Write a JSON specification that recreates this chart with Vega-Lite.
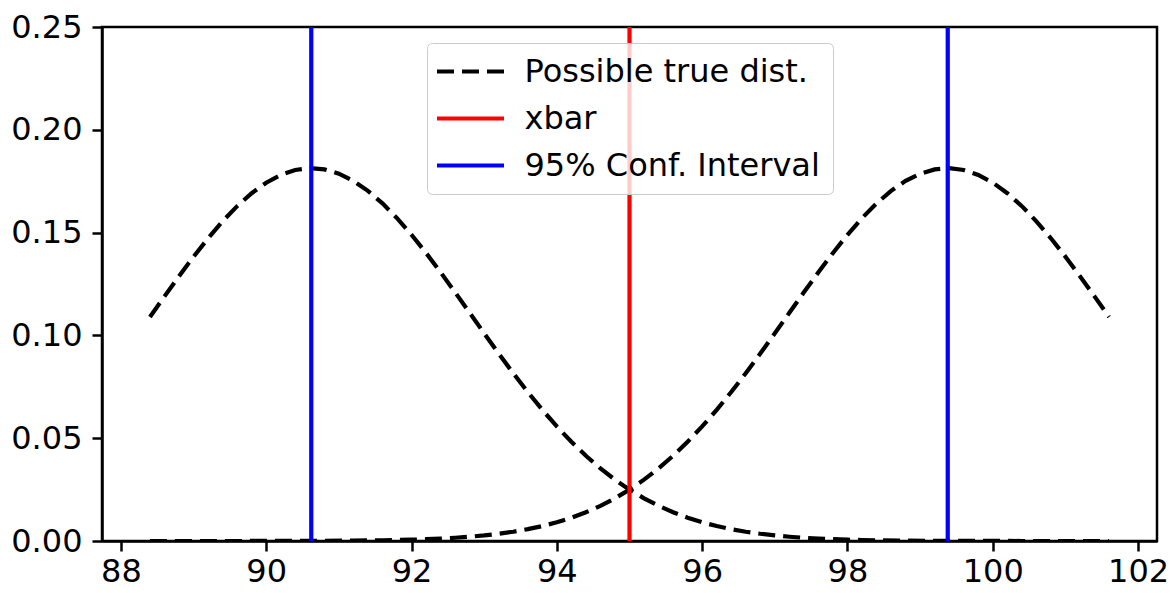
{
  "$schema": "https://vega.github.io/schema/vega-lite/v6.json",
  "autosize": "none",
  "width": 1055,
  "height": 514,
  "padding": {"left": 102, "top": 27, "right": 14, "bottom": 52},
  "background": "white",
  "config": {
    "font": "DejaVu Sans",
    "view": {"stroke": "black", "strokeWidth": 2.5},
    "axis": {
      "grid": false,
      "domainColor": "black",
      "domainWidth": 2.5,
      "tickColor": "black",
      "tickWidth": 2.5,
      "tickSize": 10,
      "labelFont": "DejaVu Sans",
      "labelFontSize": 32,
      "labelColor": "black",
      "title": null
    }
  },
  "layer": [
    {
      "data": {
        "values": [
          {"x": 88.4, "y": 0.10899, "c": "L", "s": "Possible true dist."},
          {"x": 88.6, "y": 0.11897, "c": "L", "s": "Possible true dist."},
          {"x": 88.8, "y": 0.12879, "c": "L", "s": "Possible true dist."},
          {"x": 89.0, "y": 0.13827, "c": "L", "s": "Possible true dist."},
          {"x": 89.2, "y": 0.14724, "c": "L", "s": "Possible true dist."},
          {"x": 89.4, "y": 0.15549, "c": "L", "s": "Possible true dist."},
          {"x": 89.6, "y": 0.16286, "c": "L", "s": "Possible true dist."},
          {"x": 89.8, "y": 0.16917, "c": "L", "s": "Possible true dist."},
          {"x": 90.0, "y": 0.17428, "c": "L", "s": "Possible true dist."},
          {"x": 90.2, "y": 0.17806, "c": "L", "s": "Possible true dist."},
          {"x": 90.4, "y": 0.18043, "c": "L", "s": "Possible true dist."},
          {"x": 90.6, "y": 0.18133, "c": "L", "s": "Possible true dist."},
          {"x": 90.8, "y": 0.18073, "c": "L", "s": "Possible true dist."},
          {"x": 91.0, "y": 0.17865, "c": "L", "s": "Possible true dist."},
          {"x": 91.2, "y": 0.17515, "c": "L", "s": "Possible true dist."},
          {"x": 91.4, "y": 0.17029, "c": "L", "s": "Possible true dist."},
          {"x": 91.6, "y": 0.16421, "c": "L", "s": "Possible true dist."},
          {"x": 91.8, "y": 0.15704, "c": "L", "s": "Possible true dist."},
          {"x": 92.0, "y": 0.14895, "c": "L", "s": "Possible true dist."},
          {"x": 92.2, "y": 0.14012, "c": "L", "s": "Possible true dist."},
          {"x": 92.4, "y": 0.13072, "c": "L", "s": "Possible true dist."},
          {"x": 92.6, "y": 0.12095, "c": "L", "s": "Possible true dist."},
          {"x": 92.8, "y": 0.11099, "c": "L", "s": "Possible true dist."},
          {"x": 93.0, "y": 0.10101, "c": "L", "s": "Possible true dist."},
          {"x": 93.2, "y": 0.09117, "c": "L", "s": "Possible true dist."},
          {"x": 93.4, "y": 0.08161, "c": "L", "s": "Possible true dist."},
          {"x": 93.6, "y": 0.07245, "c": "L", "s": "Possible true dist."},
          {"x": 93.8, "y": 0.06380, "c": "L", "s": "Possible true dist."},
          {"x": 94.0, "y": 0.05571, "c": "L", "s": "Possible true dist."},
          {"x": 94.2, "y": 0.04825, "c": "L", "s": "Possible true dist."},
          {"x": 94.4, "y": 0.04144, "c": "L", "s": "Possible true dist."},
          {"x": 94.6, "y": 0.03530, "c": "L", "s": "Possible true dist."},
          {"x": 94.8, "y": 0.02983, "c": "L", "s": "Possible true dist."},
          {"x": 95.0, "y": 0.02499, "c": "L", "s": "Possible true dist."},
          {"x": 95.2, "y": 0.02077, "c": "L", "s": "Possible true dist."},
          {"x": 95.4, "y": 0.01712, "c": "L", "s": "Possible true dist."},
          {"x": 95.6, "y": 0.01399, "c": "L", "s": "Possible true dist."},
          {"x": 95.8, "y": 0.01134, "c": "L", "s": "Possible true dist."},
          {"x": 96.0, "y": 0.00912, "c": "L", "s": "Possible true dist."},
          {"x": 96.2, "y": 0.00727, "c": "L", "s": "Possible true dist."},
          {"x": 96.4, "y": 0.00575, "c": "L", "s": "Possible true dist."},
          {"x": 96.6, "y": 0.00451, "c": "L", "s": "Possible true dist."},
          {"x": 96.8, "y": 0.00351, "c": "L", "s": "Possible true dist."},
          {"x": 97.0, "y": 0.00271, "c": "L", "s": "Possible true dist."},
          {"x": 97.2, "y": 0.00207, "c": "L", "s": "Possible true dist."},
          {"x": 97.4, "y": 0.00157, "c": "L", "s": "Possible true dist."},
          {"x": 97.6, "y": 0.00118, "c": "L", "s": "Possible true dist."},
          {"x": 97.8, "y": 0.00088, "c": "L", "s": "Possible true dist."},
          {"x": 98.0, "y": 0.00065, "c": "L", "s": "Possible true dist."},
          {"x": 98.2, "y": 0.00048, "c": "L", "s": "Possible true dist."},
          {"x": 98.4, "y": 0.00035, "c": "L", "s": "Possible true dist."},
          {"x": 98.8, "y": 0.00018, "c": "L", "s": "Possible true dist."},
          {"x": 99.2, "y": 0.00009, "c": "L", "s": "Possible true dist."},
          {"x": 99.6, "y": 0.00004, "c": "L", "s": "Possible true dist."},
          {"x": 100.0, "y": 0.00002, "c": "L", "s": "Possible true dist."},
          {"x": 100.4, "y": 0.00001, "c": "L", "s": "Possible true dist."},
          {"x": 100.8, "y": 0, "c": "L", "s": "Possible true dist."},
          {"x": 101.2, "y": 0, "c": "L", "s": "Possible true dist."},
          {"x": 101.6, "y": 0, "c": "L", "s": "Possible true dist."},
          {"x": 101.6, "y": 0.10899, "c": "R", "s": "Possible true dist."},
          {"x": 101.4, "y": 0.11897, "c": "R", "s": "Possible true dist."},
          {"x": 101.2, "y": 0.12879, "c": "R", "s": "Possible true dist."},
          {"x": 101.0, "y": 0.13827, "c": "R", "s": "Possible true dist."},
          {"x": 100.8, "y": 0.14724, "c": "R", "s": "Possible true dist."},
          {"x": 100.6, "y": 0.15549, "c": "R", "s": "Possible true dist."},
          {"x": 100.4, "y": 0.16286, "c": "R", "s": "Possible true dist."},
          {"x": 100.2, "y": 0.16917, "c": "R", "s": "Possible true dist."},
          {"x": 100.0, "y": 0.17428, "c": "R", "s": "Possible true dist."},
          {"x": 99.8, "y": 0.17806, "c": "R", "s": "Possible true dist."},
          {"x": 99.6, "y": 0.18043, "c": "R", "s": "Possible true dist."},
          {"x": 99.4, "y": 0.18133, "c": "R", "s": "Possible true dist."},
          {"x": 99.2, "y": 0.18073, "c": "R", "s": "Possible true dist."},
          {"x": 99.0, "y": 0.17865, "c": "R", "s": "Possible true dist."},
          {"x": 98.8, "y": 0.17515, "c": "R", "s": "Possible true dist."},
          {"x": 98.6, "y": 0.17029, "c": "R", "s": "Possible true dist."},
          {"x": 98.4, "y": 0.16421, "c": "R", "s": "Possible true dist."},
          {"x": 98.2, "y": 0.15704, "c": "R", "s": "Possible true dist."},
          {"x": 98.0, "y": 0.14895, "c": "R", "s": "Possible true dist."},
          {"x": 97.8, "y": 0.14012, "c": "R", "s": "Possible true dist."},
          {"x": 97.6, "y": 0.13072, "c": "R", "s": "Possible true dist."},
          {"x": 97.4, "y": 0.12095, "c": "R", "s": "Possible true dist."},
          {"x": 97.2, "y": 0.11099, "c": "R", "s": "Possible true dist."},
          {"x": 97.0, "y": 0.10101, "c": "R", "s": "Possible true dist."},
          {"x": 96.8, "y": 0.09117, "c": "R", "s": "Possible true dist."},
          {"x": 96.6, "y": 0.08161, "c": "R", "s": "Possible true dist."},
          {"x": 96.4, "y": 0.07245, "c": "R", "s": "Possible true dist."},
          {"x": 96.2, "y": 0.06380, "c": "R", "s": "Possible true dist."},
          {"x": 96.0, "y": 0.05571, "c": "R", "s": "Possible true dist."},
          {"x": 95.8, "y": 0.04825, "c": "R", "s": "Possible true dist."},
          {"x": 95.6, "y": 0.04144, "c": "R", "s": "Possible true dist."},
          {"x": 95.4, "y": 0.03530, "c": "R", "s": "Possible true dist."},
          {"x": 95.2, "y": 0.02983, "c": "R", "s": "Possible true dist."},
          {"x": 95.0, "y": 0.02499, "c": "R", "s": "Possible true dist."},
          {"x": 94.8, "y": 0.02077, "c": "R", "s": "Possible true dist."},
          {"x": 94.6, "y": 0.01712, "c": "R", "s": "Possible true dist."},
          {"x": 94.4, "y": 0.01399, "c": "R", "s": "Possible true dist."},
          {"x": 94.2, "y": 0.01134, "c": "R", "s": "Possible true dist."},
          {"x": 94.0, "y": 0.00912, "c": "R", "s": "Possible true dist."},
          {"x": 93.8, "y": 0.00727, "c": "R", "s": "Possible true dist."},
          {"x": 93.6, "y": 0.00575, "c": "R", "s": "Possible true dist."},
          {"x": 93.4, "y": 0.00451, "c": "R", "s": "Possible true dist."},
          {"x": 93.2, "y": 0.00351, "c": "R", "s": "Possible true dist."},
          {"x": 93.0, "y": 0.00271, "c": "R", "s": "Possible true dist."},
          {"x": 92.8, "y": 0.00207, "c": "R", "s": "Possible true dist."},
          {"x": 92.6, "y": 0.00157, "c": "R", "s": "Possible true dist."},
          {"x": 92.4, "y": 0.00118, "c": "R", "s": "Possible true dist."},
          {"x": 92.2, "y": 0.00088, "c": "R", "s": "Possible true dist."},
          {"x": 92.0, "y": 0.00065, "c": "R", "s": "Possible true dist."},
          {"x": 91.8, "y": 0.00048, "c": "R", "s": "Possible true dist."},
          {"x": 91.6, "y": 0.00035, "c": "R", "s": "Possible true dist."},
          {"x": 91.2, "y": 0.00018, "c": "R", "s": "Possible true dist."},
          {"x": 90.8, "y": 0.00009, "c": "R", "s": "Possible true dist."},
          {"x": 90.4, "y": 0.00004, "c": "R", "s": "Possible true dist."},
          {"x": 90.0, "y": 0.00002, "c": "R", "s": "Possible true dist."},
          {"x": 89.6, "y": 0.00001, "c": "R", "s": "Possible true dist."},
          {"x": 89.2, "y": 0, "c": "R", "s": "Possible true dist."},
          {"x": 88.8, "y": 0, "c": "R", "s": "Possible true dist."},
          {"x": 88.4, "y": 0, "c": "R", "s": "Possible true dist."}
        ]
      },
      "mark": {"type": "line", "strokeWidth": 4.2, "strokeCap": "butt", "clip": true},
      "encoding": {
        "x": {
          "field": "x", "type": "quantitative",
          "scale": {"domain": [87.74, 102.26], "nice": false, "zero": false},
          "axis": {"values": [88, 90, 92, 94, 96, 98, 100, 102], "format": "d", "labelPadding": 5}
        },
        "y": {
          "field": "y", "type": "quantitative",
          "scale": {"domain": [0, 0.25], "nice": false, "zero": false},
          "axis": {"values": [0, 0.05, 0.1, 0.15, 0.2, 0.25], "format": ".2f", "labelPadding": 10}
        },
        "detail": {"field": "c"},
        "color": {
          "field": "s", "type": "nominal",
          "scale": {"domain": ["Possible true dist.", "xbar", "95% Conf. Interval"], "range": ["#000000", "#ff0000", "#0000ff"]},
          "legend": {
            "title": null, "orient": "none", "legendX": 325, "legendY": 16,
            "symbolType": "M-1.85,0L4.85,0", "symbolSize": 400, "symbolStrokeWidth": 4.2,
            "labelFont": "DejaVu Sans", "labelFontSize": 32, "labelColor": "black", "labelOffset": 53,
            "rowPadding": 15, "padding": 12.5, "fillColor": "rgba(255,255,255,0.8)",
            "strokeColor": "#cccccc", "cornerRadius": 5, "labelLimit": 0
          }
        },
        "strokeDash": {
          "field": "s", "type": "nominal",
          "scale": {"domain": ["Possible true dist.", "xbar", "95% Conf. Interval"], "range": [[17, 8], [1, 0], [1, 0]]},
          "legend": {
            "title": null, "orient": "none", "legendX": 325, "legendY": 16,
            "symbolType": "M-1.85,0L4.85,0", "symbolSize": 400, "symbolStrokeWidth": 4.2,
            "labelFont": "DejaVu Sans", "labelFontSize": 32, "labelColor": "black", "labelOffset": 53,
            "rowPadding": 15, "padding": 12.5, "fillColor": "rgba(255,255,255,0.8)",
            "strokeColor": "#cccccc", "cornerRadius": 5, "labelLimit": 0
          }
        }
      }
    },
    {
      "data": {
        "values": [
          {"x": 95.0, "s": "xbar"},
          {"x": 90.62, "s": "95% Conf. Interval"},
          {"x": 99.38, "s": "95% Conf. Interval"}
        ]
      },
      "mark": {"type": "rule", "strokeWidth": 4.2},
      "encoding": {
        "x": {"field": "x", "type": "quantitative"},
        "color": {"field": "s", "type": "nominal"},
        "strokeDash": {"field": "s", "type": "nominal"}
      }
    }
  ]
}
